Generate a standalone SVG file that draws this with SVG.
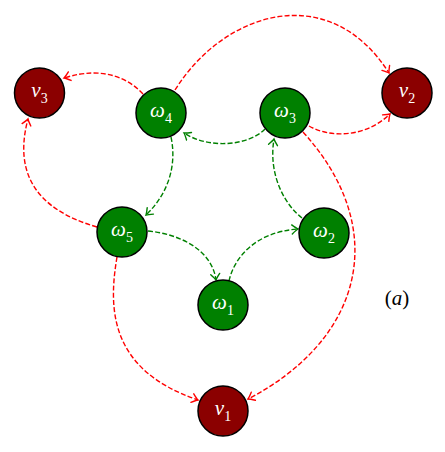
<svg xmlns="http://www.w3.org/2000/svg" width="445" height="452" viewBox="0 0 445 452">
<style>
.v{fill:#8b0000;stroke:#000;stroke-width:1.5}
.w{fill:#008000;stroke:#000;stroke-width:1.5}
.lbl{font-family:"Liberation Serif","DejaVu Serif",serif;font-size:21px;font-style:italic;fill:#fff;text-anchor:middle}
.sub{font-size:14px;font-style:normal}
.r{fill:none;stroke:#ff0000;stroke-width:1.4;stroke-dasharray:5 2.2;marker-end:url(#ar)}
.g{fill:none;stroke:#008000;stroke-width:1.4;stroke-dasharray:5 2.2;marker-end:url(#ag)}
</style>
<defs>
<marker id="ar" markerUnits="userSpaceOnUse" markerWidth="14" markerHeight="14" viewBox="-7 -7 14 14" refX="0" refY="0" orient="auto">
<path d="M-6,-4.5 Q-1.8,-0.9 0,0 Q-1.8,0.9 -6,4.5" fill="none" stroke="#ff0000" stroke-width="1.4" stroke-linecap="round"/>
</marker>
<marker id="ag" markerUnits="userSpaceOnUse" markerWidth="14" markerHeight="14" viewBox="-7 -7 14 14" refX="0" refY="0" orient="auto">
<path d="M-6,-4.5 Q-1.8,-0.9 0,0 Q-1.8,0.9 -6,4.5" fill="none" stroke="#008000" stroke-width="1.4" stroke-linecap="round"/>
</marker>
</defs>
<g id="connectors">
<path class="g" d="M265,129 C250,145 210,150 184,133"/>
<path class="g" d="M171,137 C176,160 172,190 146,215"/>
<path class="g" d="M148,231 C180,234 212,250 216,280"/>
<path class="g" d="M229,281 C234,258 255,232 298,229"/>
<path class="g" d="M302,218 C285,205 268,175 274,139"/>
<path class="r" d="M143,94 C130,80 105,65 64,78"/>
<path class="r" d="M175,90 C225,10 330,-20 389,73"/>
<path class="r" d="M309,126 C330,138 365,138 390,114"/>
<path class="r" d="M303,132 C392,230 362,340 248,399"/>
<path class="r" d="M97,227 C38,210 13,175 28,119"/>
<path class="r" d="M117,257 C108,310 110,370 198,400"/>
</g>
<g id="v3"><circle class="v" cx="39.5" cy="93" r="25"/><text class="lbl" x="39.5" y="96.5">v<tspan class="sub" dy="6.5">3</tspan></text></g>
<g id="w4"><circle class="w" cx="161" cy="113" r="25"/><text class="lbl" x="161" y="116.5">ω<tspan class="sub" dy="6.5">4</tspan></text></g>
<g id="w3"><circle class="w" cx="285" cy="113" r="25"/><text class="lbl" x="285" y="116.5">ω<tspan class="sub" dy="6.5">3</tspan></text></g>
<g id="v2"><circle class="v" cx="407" cy="93" r="25"/><text class="lbl" x="407" y="96.5">v<tspan class="sub" dy="6.5">2</tspan></text></g>
<g id="w5"><circle class="w" cx="122" cy="232" r="25"/><text class="lbl" x="122" y="235.5">ω<tspan class="sub" dy="6.5">5</tspan></text></g>
<g id="w2"><circle class="w" cx="324" cy="233" r="25"/><text class="lbl" x="324" y="236.5">ω<tspan class="sub" dy="6.5">2</tspan></text></g>
<g id="w1"><circle class="w" cx="223" cy="305" r="25"/><text class="lbl" x="223" y="308.5">ω<tspan class="sub" dy="6.5">1</tspan></text></g>
<g id="v1"><circle class="v" cx="223" cy="411" r="25"/><text class="lbl" x="223" y="414.5">v<tspan class="sub" dy="6.5">1</tspan></text></g>
<text x="397" y="305" font-family="'Liberation Serif','DejaVu Serif',serif" font-size="21" text-anchor="middle" fill="#000">(<tspan font-style="italic">a</tspan>)</text>
</svg>
